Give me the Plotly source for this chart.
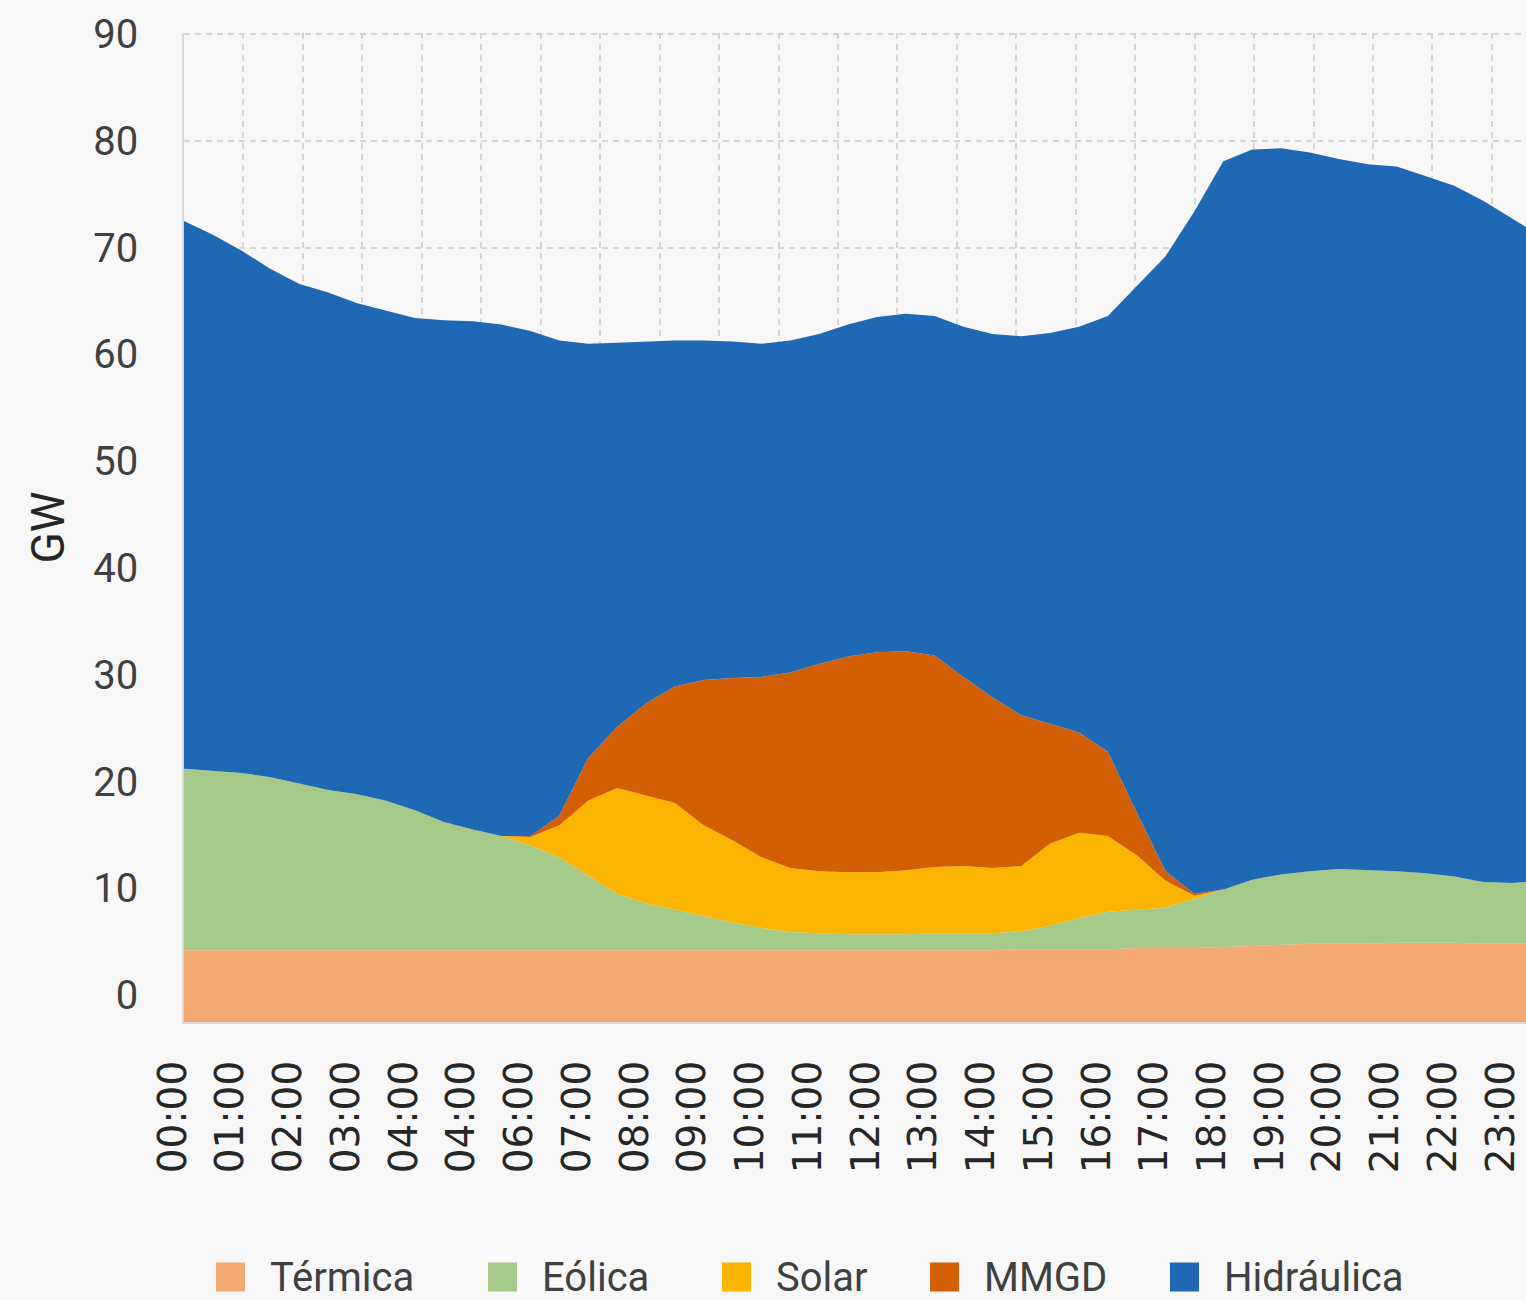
import numpy as np
import plotly.graph_objects as go

# ---------------- data (GW) ----------------
hours = [0, 0.5, 1, 1.5, 2, 2.5, 3, 3.5, 4, 4.5, 5, 5.5, 6, 6.5, 7, 7.5, 8, 8.5,
         9, 9.5, 10, 10.5, 11, 11.5, 12, 12.5, 13, 13.5, 14, 14.5, 15, 15.5, 16,
         16.5, 17, 17.5, 18, 18.5, 19, 19.5, 20, 20.5, 21, 21.5, 22, 22.5, 23, 23.25]

tick_labels = ["00:00", "01:00", "02:00", "03:00", "04:00", "04:00", "06:00",
               "07:00", "08:00", "09:00", "10:00", "11:00", "12:00", "13:00",
               "14:00", "15:00", "16:00", "17:00", "18:00", "19:00", "20:00",
               "21:00", "22:00", "23:00"]

termica = [4.2, 4.2, 4.2, 4.2, 4.2, 4.2, 4.2, 4.2, 4.2, 4.2, 4.2, 4.2, 4.2, 4.2,
           4.2, 4.2, 4.2, 4.2, 4.2, 4.2, 4.2, 4.2, 4.2, 4.2, 4.2, 4.2, 4.2, 4.2,
           4.2, 4.3, 4.3, 4.3, 4.3, 4.4, 4.4, 4.4, 4.5, 4.6, 4.7, 4.8, 4.8, 4.8,
           4.9, 4.9, 4.9, 4.8, 4.8, 4.8]

eolica = [17.0, 16.8, 16.6, 16.2, 15.6, 15.0, 14.6, 14.0, 13.1, 12.0, 11.3, 10.7,
          9.8, 8.7, 7.0, 5.3, 4.4, 3.8, 3.2, 2.6, 2.1, 1.7, 1.6, 1.5, 1.5, 1.5,
          1.6, 1.6, 1.6, 1.7, 2.2, 2.9, 3.5, 3.6, 3.8, 4.6, 5.4, 6.2, 6.6, 6.8,
          7.0, 6.9, 6.7, 6.5, 6.2, 5.8, 5.7, 5.8]

solar = [0, 0, 0, 0, 0, 0, 0, 0, 0, 0, 0, 0,
         0.8, 3.0, 7.0, 9.9, 10.1, 10.0, 8.5, 7.7, 6.6, 6.0, 5.8, 5.8, 5.8, 6.0,
         6.2, 6.3, 6.1, 6.1, 7.7, 8.0, 7.1, 5.1, 2.5, 0.3,
         0, 0, 0, 0, 0, 0, 0, 0, 0, 0, 0, 0]

mmgd = [0, 0, 0, 0, 0, 0, 0, 0, 0, 0, 0, 0,
        0.1, 0.9, 4.0, 5.7, 8.6, 10.9, 13.6, 15.2, 16.9, 18.3, 19.4, 20.2, 20.6,
        20.5, 19.8, 17.7, 16.0, 14.1, 11.2, 9.4, 7.9, 4.0, 0.9, 0.2,
        0, 0, 0, 0, 0, 0, 0, 0, 0, 0, 0, 0]

hidraulica = [51.3, 50.2, 48.9, 47.6, 46.8, 46.6, 46.0, 45.9, 46.1, 47.0, 47.6, 47.9,
              47.3, 44.5, 38.8, 36.0, 33.9, 32.4, 31.8, 31.5, 31.2, 31.1, 30.9, 31.1,
              31.4, 31.6, 31.8, 32.8, 34.0, 35.5, 36.6, 38.0, 40.8, 49.3, 57.6, 63.9,
              68.2, 68.4, 68.0, 67.3, 66.5, 66.1, 66.0, 65.3, 64.7, 63.8, 62.2, 61.3]

series_names = ["Térmica", "Eólica", "Solar", "MMGD", "Hidráulica"]
series_values = [termica, eolica, solar, mmgd, hidraulica]
series_colors = ["#F4A871", "#A4C988", "#FBB401", "#D25F04", "#1F69B4"]

# ---------------- layout constants ----------------
W, H = 1526, 1300
PLOT_LEFT, PLOT_TOP, PLOT_BOTTOM = 184, 33, 1022
HOUR_PX = 57.74          # pixel width of one hour
GRID_PX = 59.45          # spacing of the vertical dashed grid
LABEL_OFFSET_PX = 11     # tick labels sit slightly left of the hour position
Y_MIN, Y_MAX = -2.52, 90.1
BG = "#F7F7F7"
GRID = "#D6D6D6"
TXT = "#404040"

x_end = (W - PLOT_LEFT) / HOUR_PX
grid_vals = [k * GRID_PX / HOUR_PX for k in range(24)]

fig = go.Figure()

# baseline at the bottom of the value axis
fig.add_trace(go.Scatter(x=hours, y=[Y_MIN] * len(hours), mode="lines",
                         line=dict(width=0), showlegend=False, hoverinfo="skip"))

cum = np.zeros(len(hours))
for name, vals, color in zip(series_names, series_values, series_colors):
    cum = cum + np.array(vals, dtype=float)
    fig.add_trace(go.Scatter(x=hours, y=cum.copy(), mode="lines", name=name,
                             fill="tonexty", fillcolor=color,
                             line=dict(width=0, color=color), showlegend=False))

# empty trace so the hour-label axis gets drawn
fig.add_trace(go.Scatter(x=[], y=[], xaxis="x2", yaxis="y2", mode="lines",
                         showlegend=False, hoverinfo="skip"))

# ---------------- custom legend (squares + text) ----------------
def px_x(px):
    return px / W

def px_y(py):
    return (PLOT_BOTTOM - py) / (PLOT_BOTTOM - PLOT_TOP)

legend_sq_left = [216, 488, 722, 930, 1170]
LEG_CY = 1277
SQ = 29
shapes = []
annotations = []
for name, color, sx in zip(series_names, series_colors, legend_sq_left):
    shapes.append(dict(type="rect", xref="paper", yref="paper",
                       x0=px_x(sx), x1=px_x(sx + SQ),
                       y0=px_y(LEG_CY + SQ / 2), y1=px_y(LEG_CY - SQ / 2),
                       fillcolor=color, line=dict(width=0)))
    annotations.append(dict(xref="paper", yref="paper", x=px_x(sx + 52),
                            y=px_y(LEG_CY), text=name, showarrow=False,
                            xanchor="left", yanchor="middle",
                            font=dict(family="Roboto, sans-serif", size=40, color=TXT)))

fig.update_layout(
    width=W, height=H,
    margin=dict(l=0, r=0, t=PLOT_TOP, b=H - PLOT_BOTTOM, pad=0),
    paper_bgcolor=BG, plot_bgcolor="rgba(0,0,0,0)",
    showlegend=False,
    shapes=shapes, annotations=annotations,
    xaxis=dict(domain=[PLOT_LEFT / W, 1], range=[0, x_end],
               tickvals=grid_vals, showticklabels=False, ticks="",
               showgrid=True, gridcolor=GRID, gridwidth=1.5, griddash="6px,5px",
               showline=True, linecolor="#D9D9D9", linewidth=1.5,
               zeroline=False, layer="below traces", fixedrange=True),
    yaxis=dict(range=[Y_MIN, Y_MAX], tickvals=list(range(0, 91, 10)),
               ticks="", ticklabelstandoff=36,
               tickfont=dict(family="Roboto, sans-serif", size=40, color=TXT),
               showgrid=True, gridcolor=GRID, gridwidth=1.5, griddash="6px,5px",
               showline=True, linecolor="#D9D9D9", linewidth=1.5,
               zeroline=False, layer="below traces", fixedrange=True,
               title=dict(text="GW", standoff=14,
                          font=dict(family="Roboto, sans-serif", size=46, color="#262626"))),
    xaxis2=dict(domain=[0, 1], anchor="y2",
                range=[-(PLOT_LEFT - LABEL_OFFSET_PX) / HOUR_PX,
                       (W - PLOT_LEFT + LABEL_OFFSET_PX) / HOUR_PX],
                tickvals=list(range(len(tick_labels))), ticktext=tick_labels,
                tickangle=-90, ticks="", ticklabelstandoff=30,
                tickfont=dict(family="DejaVu Sans, sans-serif", size=39, color="#262626"),
                showgrid=False, showline=False, zeroline=False, fixedrange=True),
    yaxis2=dict(domain=[0, 1], anchor="x2", range=[0, 1], visible=False,
                showgrid=False, zeroline=False, fixedrange=True),
)

fig.write_html("out.html", config={"displayModeBar": False},
               post_script="document.body.style.margin='0';")
